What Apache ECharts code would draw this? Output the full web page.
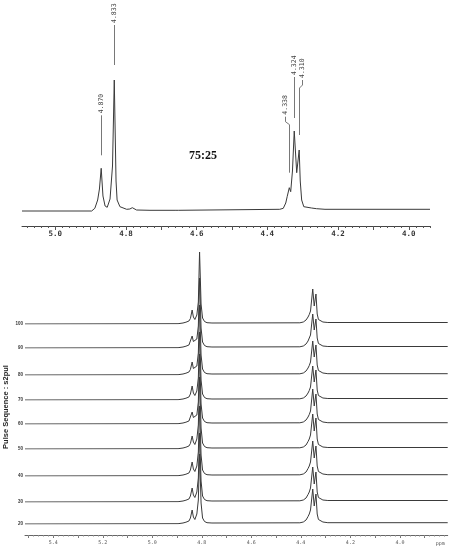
<!DOCTYPE html>
<html>
<head>
<meta charset="utf-8">
<script src="https://cdn.jsdelivr.net/npm/echarts@6/dist/echarts.min.js"></script>
<style>
  html, body { margin: 0; padding: 0; background: #fff; }
  #main { width: 453px; height: 550px; }
</style>
</head>
<body>
<div id="main"></div>
<script>
// ---- top spectrum (ppm, intensity) ----
var topPpm = [5.094, 4.897, 4.888, 4.880, 4.875, 4.870, 4.865, 4.859, 4.853, 4.845, 4.838, 4.833, 4.828, 4.825, 4.817,
  4.798, 4.789, 4.782, 4.770, 4.732, 4.661, 4.657, 4.652, 4.365, 4.355, 4.348, 4.344, 4.338, 4.334, 4.329, 4.324,
  4.317, 4.310, 4.307, 4.303, 4.297, 4.275, 4.270, 4.261, 4.237, 3.940];
var topInt = [0, 0, 2.7, 11, 22, 42.7, 15, 5, 3.7, 12, 45, 131, 30, 11, 4.3,
  1.7, 2, 3.3, 1, 0.7, 0.7, 1.5, 0.7, 1.7, 2.7, 8, 14.3, 23.3, 19.3, 40, 80,
  38.3, 61, 30, 11, 4.3, 3, 3.7, 2.3, 1.7, 1.7];
var peakLabels = ['4.870', '4.833', '4.338', '4.324', '4.310'];
var ratioText = '75:25';
var topTickLabels = ['5.0', '4.8', '4.6', '4.4', '4.2', '4.0'];

// ---- stacked spectra ----
var stackPpm = [5.514, 4.896, 4.876, 4.864, 4.852, 4.846, 4.839, 4.834, 4.828, 4.820, 4.814, 4.809, 4.803, 4.797, 4.789, 4.779,
  4.759, 4.404, 4.390, 4.379, 4.371, 4.366, 4.361, 4.352, 4.346, 4.339, 4.334, 4.329, 4.323, 4.311, 4.291, 3.807];
var traceNames = ['100', '90', '80', '70', '60', '50', '40', '30', '20'];
var trace100 = [0, 0.3, 1, 1.8, 3, 5.5, 14, 7, 4.5, 9, 22, 72, 20, 6, 2.5, 1.3, 1, 1.2, 2, 4, 7, 9.5, 13, 35, 18, 30, 10, 4.5, 3, 2, 1.5, 1.5];
var trace90 = [0, 0.3, 1, 1.8, 3, 5, 12, 6.5, 4.5, 9, 22, 70, 20, 6, 2.5, 1.3, 1, 1.2, 2, 4, 7, 9, 13, 34, 18, 29, 10, 4.5, 3, 2, 1.5, 1.5];
var trace80 = [0, 0.3, 1, 1.8, 3, 5.5, 13, 6.5, 4.5, 9, 22, 70, 20, 6, 2.5, 1.3, 1, 1.2, 2, 4, 7, 9.5, 13, 34, 18, 30, 10, 4.5, 3, 2, 1.3, 1.3];
var trace70 = [0, 0.3, 1, 1.8, 3, 6, 14, 7, 4.5, 9, 22, 68, 20, 6, 2.5, 1.3, 1, 1.2, 2, 4, 7, 9.5, 13, 34, 18, 30, 10, 4.5, 3, 2, 1.5, 1.5];
var trace60 = [0, 0.3, 1, 1.8, 3, 5, 12, 6.5, 4.5, 9, 22, 70, 20, 6, 2.5, 1.3, 1, 1.2, 2, 4, 7, 9.5, 13, 35, 18, 30, 10, 4.5, 3, 2, 1.3, 1.3];
var trace50 = [0, 0.3, 1, 1.8, 3, 5.5, 13, 7, 4.5, 10, 24, 72, 21, 6, 2.5, 1.3, 1, 1.2, 2, 4, 7.5, 10, 14, 35, 18, 31, 10, 4.5, 3, 2, 1.5, 1.5];
var trace40 = [0, 0.3, 1, 1.8, 3, 6, 14, 7, 4.5, 10, 24, 70, 21, 6, 2.5, 1.3, 1, 1.2, 2, 4, 7.5, 10, 14, 35, 18, 30, 10, 4.5, 3, 2, 1.3, 1.3];
var trace30 = [0, 0.3, 1, 1.8, 3, 6, 14, 7, 4.5, 10, 24, 69, 21, 6, 2.5, 1.3, 1, 1.2, 2, 4, 7.5, 10, 14, 35, 18, 30, 10, 4.5, 3, 2, 1.5, 1.5];
var trace20 = [0, 0.3, 1, 1.8, 3, 6, 14, 7, 4.5, 10, 24, 70, 21, 6, 2.5, 1.3, 1, 1.2, 2, 4, 7.5, 10, 14, 35, 18, 30, 10, 4.5, 3, 2, 1.3, 1.3];
var traces = [trace100, trace90, trace80, trace70, trace60, trace50, trace40, trace30, trace20];
var stackTickLabels = ['5.4', '5.2', '5.0', '4.8', '4.6', '4.4', '4.2', '4.0'];
var yTitle = 'Pulse Sequence : s2pul';

// ---- layout ----
var topRange = [3.940, 5.094];
var stackRange = [3.807, 5.514];
var traceBase = [324, 348, 375, 400, 424, 449, 476, 502, 524];
// leader lines of the peak labels: gap above peak, stem length, sideways shift of the label
var leaderLayout = [
  { gap: 13, len: 40, dx: 0 },
  { gap: 15, len: 40, dx: 0 },
  { gap: 15, len: 48, dx: -4 },
  { gap: 13, len: 41, dx: 0 },
  { gap: 15, len: 47, dx: 3 }
];
var lineColor = '#3a3a3a';
var mono = '"DejaVu Sans Mono", monospace';

function steps(lo, hi, step) {
  var out = [];
  var start = Math.ceil(lo / step - 1e-6);
  for (var k = start; k * step <= hi + 1e-9; k++) out.push(+(k * step).toFixed(3));
  return out;
}
function toPairs(xs, ys) {
  return xs.map(function (x, i) { return [x, ys[i]]; });
}
function nearestInt(ppm) {
  var best = 0;
  topPpm.forEach(function (p, i) { if (Math.abs(p - ppm) < Math.abs(topPpm[best] - ppm)) best = i; });
  return topInt[best];
}

var grids = [], xAxes = [], yAxes = [], series = [];

// top panel
grids.push({ left: 22, right: 23, top: 0, height: 226 });
xAxes.push({
  gridIndex: 0, type: 'value', inverse: true, position: 'bottom', min: topRange[0], max: topRange[1],
  axisLine: { onZero: false, lineStyle: { color: '#444', width: 1 } },
  axisTick: { length: 4, customValues: steps(topRange[0], topRange[1], 0.1), lineStyle: { color: '#555' } },
  axisLabel: {
    customValues: topTickLabels.map(parseFloat),
    formatter: function (v) { return v.toFixed(1); },
    margin: 4, fontFamily: mono, fontSize: 7.5, fontWeight: 'bold', color: '#333'
  },
  splitLine: { show: false }
});
xAxes.push({
  gridIndex: 0, type: 'value', inverse: true, position: 'bottom', min: topRange[0], max: topRange[1],
  axisLine: { show: false, onZero: false },
  axisTick: { length: 2, customValues: steps(topRange[0], topRange[1], 0.02), lineStyle: { color: '#555' } },
  axisLabel: { show: false }, splitLine: { show: false }
});
yAxes.push({ gridIndex: 0, type: 'value', min: -15, max: 211, show: false });
series.push({
  type: 'line', xAxisIndex: 0, yAxisIndex: 0, data: toPairs(topPpm, topInt),
  symbol: 'none', lineStyle: { color: lineColor, width: 1 }, silent: true
});
series.push({
  type: 'custom', xAxisIndex: 0, yAxisIndex: 0, clip: false, silent: true,
  data: peakLabels.map(function (l) { return [parseFloat(l), nearestInt(parseFloat(l))]; }),
  renderItem: function (params, api) {
    var i = params.dataIndex;
    var p = api.coord([api.value(0), api.value(1)]);
    var L = leaderLayout[i];
    var x0 = Math.round(p[0]) + 0.5;
    var yb = p[1] - L.gap, yt = yb - L.len;
    var pts = [[x0, yb], [x0, yt]];
    var tx = x0, ty = yt - 2;
    if (L.dx) {
      pts.push([x0 + L.dx, yt - 3], [x0 + L.dx, yt - 8]);
      tx = x0 + L.dx; ty = yt - 10;
    }
    return {
      type: 'group',
      children: [
        { type: 'polyline', shape: { points: pts }, style: { stroke: '#555', lineWidth: 0.8, fill: 'none' } },
        {
          type: 'text', x: tx, y: ty, rotation: Math.PI / 2,
          style: { text: peakLabels[i], font: '6.5px ' + mono, fill: '#444', align: 'left', verticalAlign: 'middle' }
        }
      ]
    };
  }
});

// stacked traces
traces.forEach(function (tr, k) {
  var gi = grids.length;
  grids.push({ left: 25, right: 5.3, top: traceBase[k] - 100, height: 100 });
  xAxes.push({ gridIndex: gi, type: 'value', inverse: true, min: stackRange[0], max: stackRange[1], show: false });
  yAxes.push({
    gridIndex: gi, type: 'value', min: 0, max: 100,
    axisLine: { show: false }, axisTick: { show: false }, splitLine: { show: false },
    axisLabel: {
      customValues: [0], margin: 2, fontSize: 4.5, fontWeight: 'bold', color: '#333',
      formatter: function () { return traceNames[k]; }
    }
  });
  series.push({
    type: 'line', xAxisIndex: xAxes.length - 1, yAxisIndex: yAxes.length - 1,
    data: toPairs(stackPpm, tr), symbol: 'none', silent: true,
    lineStyle: { color: lineColor, width: 1 }
  });
});

// bottom ppm axis
var ag = grids.length;
grids.push({ left: 25, right: 5.3, top: 435, height: 100 });
xAxes.push({
  gridIndex: ag, type: 'value', inverse: true, position: 'bottom', min: stackRange[0], max: stackRange[1],
  name: 'ppm', nameLocation: 'start', nameGap: -12,
  nameTextStyle: { fontFamily: mono, fontSize: 5, color: '#555', verticalAlign: 'top', padding: [6, 0, 0, 0] },
  axisLine: { onZero: false, lineStyle: { color: '#666', width: 1 } },
  axisTick: { length: 3, customValues: steps(stackRange[0], stackRange[1], 0.1), lineStyle: { color: '#777' } },
  axisLabel: {
    customValues: stackTickLabels.map(parseFloat),
    formatter: function (v) { return v.toFixed(1); },
    margin: 5, fontFamily: mono, fontSize: 5, color: '#555'
  },
  splitLine: { show: false }
});
xAxes.push({
  gridIndex: ag, type: 'value', inverse: true, position: 'bottom', min: stackRange[0], max: stackRange[1],
  axisLine: { show: false, onZero: false },
  axisTick: { length: 1.5, customValues: steps(stackRange[0], stackRange[1], 0.02), lineStyle: { color: '#888' } },
  axisLabel: { show: false }, splitLine: { show: false }
});
yAxes.push({ gridIndex: ag, type: 'value', min: 0, max: 100, show: false });

var chart = echarts.init(document.getElementById('main'));
chart.setOption({
  animation: false,
  backgroundColor: '#fff',
  title: {
    text: ratioText, left: 184, top: 145,
    textStyle: { fontFamily: '"Liberation Serif", serif', fontSize: 12, fontWeight: 'bold', color: '#111' }
  },
  graphic: [{
    type: 'text', x: 6, y: 407, rotation: Math.PI / 2,
    style: { text: yTitle, font: 'bold 7.5px "Liberation Sans", Arial, sans-serif', fill: '#222', align: 'center', verticalAlign: 'middle' }
  }],
  grid: grids,
  xAxis: xAxes,
  yAxis: yAxes,
  series: series
});
</script>
</body>
</html>
